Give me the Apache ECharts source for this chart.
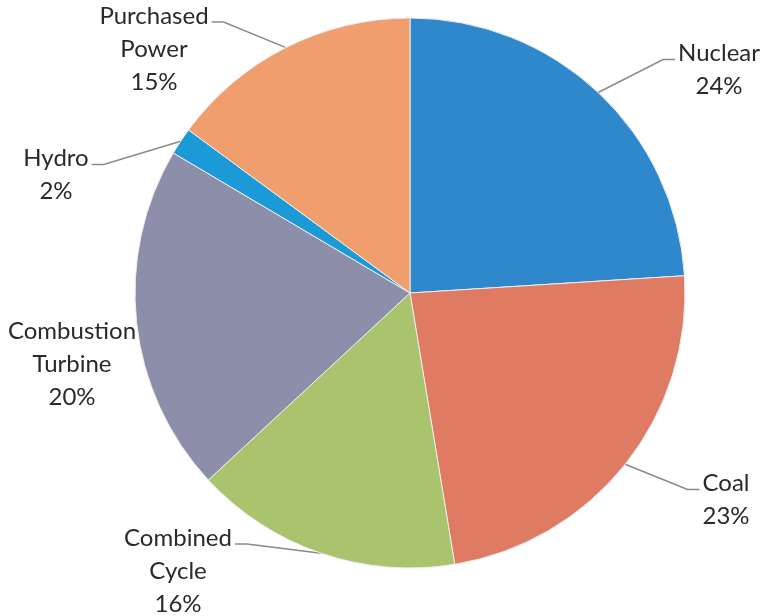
<!DOCTYPE html>
<html>
<head>
<meta charset="utf-8">
<script src="https://cdn.jsdelivr.net/npm/echarts@6/dist/echarts.min.js"></script>
<style>
html,body{margin:0;padding:0;background:#fff;}
#chart{width:761px;height:616px;}
</style>
</head>
<body>
<div id="chart"></div>
<script>
// Data (share of generation, %)
const categories = ['Nuclear', 'Coal', 'Combined\nCycle', 'Combustion\nTurbine', 'Hydro', 'Purchased\nPower'];
const values = [24.0, 23.4, 15.7, 20.4, 1.6, 14.9];
const colors = ['#2f88cc', '#df7a63', '#a9c46c', '#8c8eaa', '#1c9ad8', '#f09e6e'];

// label anchor positions (layout only)
const labelPos = [[719, 70], [726, 500], [178, 571], [72, 364], [56, 175], [154, 49]];

const FONT_SIZE = 24, LINE_H = 33;
const measure = document.createElement('canvas').getContext('2d');
measure.font = FONT_SIZE + 'px Lato';

const chart = echarts.init(document.getElementById('chart'), null, {renderer: 'canvas'});
chart.setOption({
  backgroundColor: '#ffffff',
  animation: false,
  series: [{
    type: 'pie',
    center: [410, 293],
    radius: 275,
    startAngle: 90,
    clockwise: true,
    percentPrecision: 0,
    avoidLabelOverlap: false,
    itemStyle: {borderColor: '#eeeeee', borderWidth: 1},
    label: {
      show: true,
      position: 'outside',
      formatter: '{b}\n{d}%',
      fontFamily: 'Lato',
      fontSize: FONT_SIZE,
      lineHeight: LINE_H,
      color: '#2a2a2a'
    },
    labelLine: {show: true, lineStyle: {color: '#8a8a8a', width: 1.5}},
    labelLayout: function (p) {
      const i = p.dataIndex;
      const pos = labelPos[i];
      const out = {x: pos[0], y: pos[1], align: 'center', verticalAlign: 'middle'};
      if (p.labelLinePoints && i !== 3) {
        const first = categories[i].split('\n')[0];
        const nLines = categories[i].split('\n').length + 1;
        const w = measure.measureText(first).width;
        const y = pos[1] - (nLines - 1) * LINE_H / 2 + 6;
        const start = p.labelLinePoints[0];
        const rightSide = start[0] > 410;
        const endX = rightSide ? pos[0] - w / 2 - 3 : pos[0] + w / 2 + 3;
        const midX = rightSide ? endX - 12 : endX + 12;
        out.labelLinePoints = [start, [midX, y], [endX, y]];
      }
      return out;
    },
    data: categories.map((c, i) => ({
      name: c,
      value: values[i],
      itemStyle: {color: colors[i]},
      labelLine: {show: i !== 3}
    }))
  }]
});
</script>
</body>
</html>
